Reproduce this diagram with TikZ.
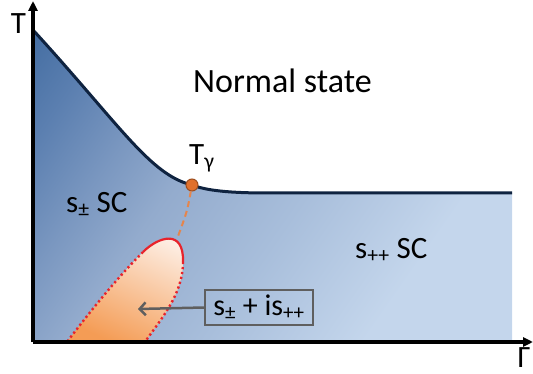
\documentclass[tikz,border=0pt]{standalone}
\usepackage{fontspec}
\setmainfont{Carlito}
\usetikzlibrary{arrows.meta, positioning}

\definecolor{blaudunkel}{HTML}{38649A}
\definecolor{blaueins}{HTML}{5B7FB0}
\definecolor{blauzwei}{HTML}{7A97C0}
\definecolor{blaudrei}{HTML}{93ABCD}
\definecolor{blaumitte}{HTML}{A8BEDB}
\definecolor{blauhell}{HTML}{C4D6EC}
\definecolor{linie}{HTML}{0F2340}
\definecolor{orangehell}{HTML}{FDEDE2}
\definecolor{orangedunkel}{HTML}{F49C55}
\definecolor{punkt}{HTML}{E0702C}
\definecolor{rotlinie}{HTML}{E8232B}
\definecolor{grau}{HTML}{5F5F5F}

\pgfdeclarehorizontalshading{phase}{100bp}{color(0bp)=(blaudunkel); color(11bp)=(blaudunkel);
	color(23bp)=(blaueins); color(32bp)=(blauzwei); color(40bp)=(blaudrei);
	color(54bp)=(blaumitte); color(70bp)=(blauhell); color(100bp)=(blauhell)}

\tikzset{
	achse/.style={line width=3.5pt, -{Triangle[length=10pt,width=9pt]}},
	gross/.style={font=\fontsize{34}{40}\selectfont, inner sep=0pt},
	beschr/.style={font=\fontsize{31}{36}\selectfont, inner sep=0pt},
	randrot/.style={rotlinie, line width=2.4pt, dash pattern=on 2.2pt off 2.8pt},
}

\begin{document}
\begin{tikzpicture}[x=1pt,y=-1pt]
			\useasboundingbox (0,0) rectangle (533,374);
			
			% Phasengebiet SC
			\shade[shading=phase, shading angle=-35]
				(33,342) -- (33,30) .. controls (120,125) and (150,175) .. (192,185)
				.. controls (210,192) and (240,193) .. (270,193) -- (512,193) -- (512,342) -- cycle;
			\draw[linie, line width=3pt] (33,30) .. controls (120,125) and (150,175) .. (192,185)
				.. controls (210,192) and (240,193) .. (270,193) -- (512,193);
			
			% Kuppel s+is
			\shade[top color=orangehell, bottom color=orangedunkel, shading angle=-25]
				(67,342) .. controls (95,305) and (120,275) .. (143,252)
				.. controls (158,237) and (184,228) .. (183,262)
				.. controls (183,295) and (160,320) .. (145,342) -- cycle;
			\draw[rotlinie, line width=2.2pt] (143,252) .. controls (158,237) and (184,228) .. (183,262);
			\draw[randrot] (143,252) .. controls (120,275) and (95,305) .. (67,342);
			\draw[randrot] (183,262) .. controls (183,295) and (160,320) .. (145,342);
			
			% Punkt T_gamma
			\coordinate (kuppel) at (177,239);
			\node[circle, fill=punkt, draw=punkt!70!black, line width=1pt, minimum size=12pt, inner sep=0pt] (Tg) at (192,185) {};
			\draw[punkt!85!white, line width=2pt, dash pattern=on 6pt off 4pt] (Tg) .. controls (187,212) .. (kuppel);
			\node[beschr, anchor=base west] (Tglabel) at (189,165) {T\textsubscript{γ}};
			
			% Koordinatensystem
			\coordinate (O) at (33,342);
			\coordinate (ytip) at (33,1);
			\coordinate (xtip) at (533,342);
			\draw[achse] (O) -- (ytip);
			\draw[achse] (O) -- (xtip);
			\node[beschr] (Tachse) at (18.5,24) {T};
			\node[beschr, anchor=base] (Gachse) at (524,367) {Γ};
			
			% Beschriftungen
			\node[gross, anchor=base west] (normal) at (193,93) {Normal state};
			\node[beschr, anchor=base west] (spm) at (66,213) {s\textsubscript{±} SC};
			\node[beschr, anchor=base west] (spp) at (355,259) {s\textsubscript{++} SC};
			
			% Kasten mit Pfeil
			\coordinate (pfeil) at (138,309);
			\node[draw=grau, line width=1.5pt, minimum width=108pt, minimum height=35pt, inner sep=0pt,
				font=\fontsize{30}{36}\selectfont] (mix) at (259,307.5) {s\textsubscript{±} + is\textsubscript{++}};
			\draw[grau, line width=2.5pt, -{Straight Barb[length=6pt,width=13pt]}] (mix.west) -- (pfeil);
		\end{tikzpicture}
\end{document}
